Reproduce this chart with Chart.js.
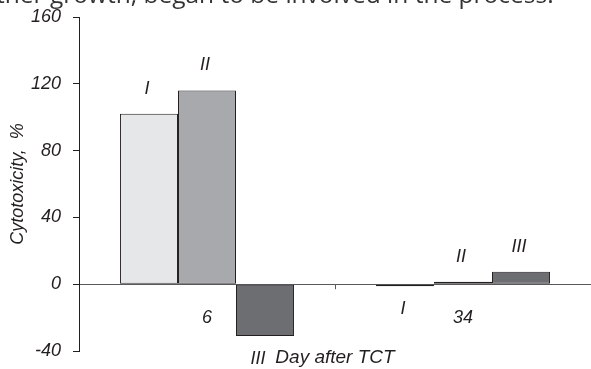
<!DOCTYPE html>
<html>
<head>
<meta charset="utf-8">
<script src="https://cdn.jsdelivr.net/npm/chart.js@4"></script>
<style>
  body { margin: 0; background: #fff; }
  #wrap { position: relative; width: 591px; height: 369px; overflow: hidden; }
  #cut { position: absolute; left: -4px; top: -18px; font: 24.5px 'Open Sans', 'Liberation Sans', Arial, sans-serif;
         line-height: 24px; color: #333; white-space: nowrap; }
  canvas { position: absolute; left: 0; top: 0; }
</style>
</head>
<body>
<div id="wrap">
  <canvas id="myChart" width="591" height="369"></canvas>
  <div id="cut">ther growth, began to be involved in the process.</div>
</div>
<script>
// data
var days = ['6', '34'];
var seriesNames = ['I', 'II', 'III'];
var serieI = [102, -1.3];
var serieII = [116, 1.4];
var serieIII = [-31, 7.4];
var yTicks = [-40, 0, 40, 80, 120, 160];

var fonte = "'Liberation Sans', Arial, sans-serif";
var tinta = '#231f20';

var rotulos = {
    id: 'rotulos',
    afterDatasetsDraw: function (chart) {
        var ctx = chart.ctx;
        var x = chart.scales.x;
        var y = chart.scales.y;
        var zero = y.getPixelForValue(0);
        ctx.save();
        ctx.font = 'italic 18px ' + fonte;
        ctx.fillStyle = tinta;
        ctx.textAlign = 'center';
        ctx.textBaseline = 'middle';
        chart.data.datasets.forEach(function (ds, i) {
            chart.getDatasetMeta(i).data.forEach(function (bar, j) {
                var v = ds.data[j];
                var yy = v >= 0 ? bar.y - 25 : bar.y + 23;
                // the label under the negative bar sits a bit to the left
                var dx = v >= 0 ? -2 : (j === 0 ? -7 : -2);
                ctx.fillText(seriesNames[i], bar.x + dx, yy);
            });
        });
        days.forEach(function (d, j) {
            ctx.fillText(d, x.getPixelForValue(j), zero + 34);
        });
        // tick between the two days, under the zero line
        var meio = (x.getPixelForValue(0) + x.getPixelForValue(1)) / 2;
        ctx.strokeStyle = '#58595b';
        ctx.lineWidth = 1;
        ctx.beginPath();
        ctx.moveTo(Math.round(meio) + 0.5, zero);
        ctx.lineTo(Math.round(meio) + 0.5, zero + 5);
        ctx.stroke();
        ctx.restore();
    }
};

var ctx = document.getElementById('myChart').getContext('2d');
var myChart = new Chart(ctx, {
    type: 'bar',
    data: {
        labels: days,
        datasets: [
            { label: seriesNames[0], data: serieI, backgroundColor: '#e6e7e8' },
            { label: seriesNames[1], data: serieII, backgroundColor: '#a7a9ac' },
            { label: seriesNames[2], data: serieIII, backgroundColor: '#6d6e71' }
        ]
    },
    options: {
        responsive: false,
        devicePixelRatio: 1,
        animation: false,
        layout: { padding: { top: 17, right: 0, left: 0, bottom: 0 } },
        datasets: {
            bar: {
                borderColor: tinta,
                borderWidth: 1,
                borderSkipped: false,
                barPercentage: 1,
                categoryPercentage: 0.68
            }
        },
        plugins: {
            legend: { display: false },
            tooltip: { enabled: false }
        },
        scales: {
            x: {
                grid: { display: false },
                border: { display: false },
                ticks: { display: false },
                title: {
                    display: true,
                    text: 'Day after TCT',
                    color: tinta,
                    font: { family: fonte, size: 19, style: 'italic' },
                    padding: { top: 0, bottom: 0 }
                },
                afterFit: function (scale) {
                    scale.height = 18;
                    scale.paddingLeft = 0;
                    scale.paddingRight = 0;
                }
            },
            y: {
                min: -40,
                max: 160,
                afterBuildTicks: function (scale) {
                    scale.ticks = yTicks.map(function (v) { return { value: v }; });
                },
                border: { display: true, color: tinta, width: 1 },
                grid: {
                    drawTicks: true,
                    tickLength: 6,
                    tickColor: tinta,
                    color: function (c) {
                        return c.tick && c.tick.value === 0 ? '#58595b' : 'rgba(0,0,0,0)';
                    }
                },
                ticks: {
                    color: tinta,
                    padding: 12,
                    font: { family: fonte, size: 18, style: 'italic' }
                },
                title: {
                    display: true,
                    text: 'Cytotoxicity,  %',
                    color: tinta,
                    font: { family: fonte, size: 18, style: 'italic' },
                    padding: { top: 7, bottom: 0 }
                },
                afterFit: function (scale) {
                    scale.width = 79;
                    scale.paddingTop = 0;
                    scale.paddingBottom = 0;
                }
            }
        }
    },
    plugins: [rotulos]
});
</script>
</body>
</html>
